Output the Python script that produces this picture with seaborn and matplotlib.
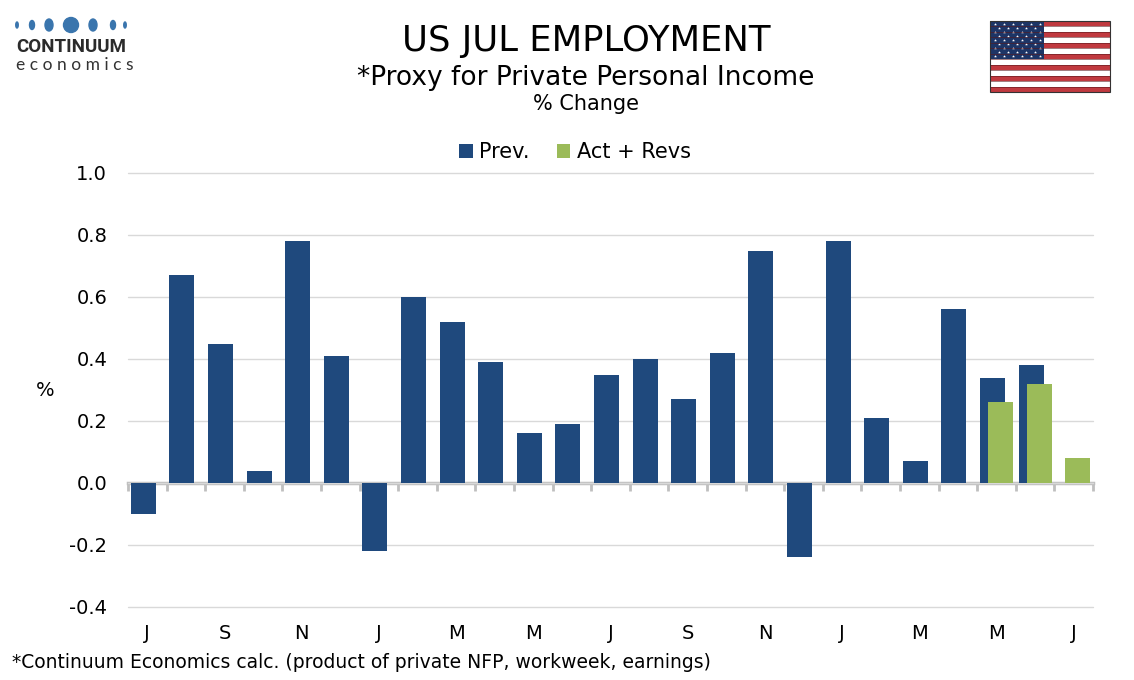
import numpy as np
import pandas as pd
import matplotlib
matplotlib.use("Agg")
import matplotlib.pyplot as plt
from matplotlib.patches import Patch, Rectangle, Ellipse
import seaborn as sns

# ---------------- data ----------------
months = ["Jul-23", "Aug-23", "Sep-23", "Oct-23", "Nov-23", "Dec-23",
          "Jan-24", "Feb-24", "Mar-24", "Apr-24", "May-24", "Jun-24",
          "Jul-24", "Aug-24", "Sep-24", "Oct-24", "Nov-24", "Dec-24",
          "Jan-25", "Feb-25", "Mar-25", "Apr-25", "May-25", "Jun-25", "Jul-25"]
prev = [-0.10, 0.67, 0.45, 0.04, 0.78, 0.41, -0.22, 0.60, 0.52, 0.39, 0.16, 0.19,
        0.35, 0.40, 0.27, 0.42, 0.75, -0.24, 0.78, 0.21, 0.07, 0.56, 0.34, 0.38, np.nan]
act = [np.nan] * 22 + [0.26, 0.32, 0.08]
series_names = ["Prev.", "Act + Revs"]
tick_labels = ["J", "S", "N", "J", "M", "M", "J", "S", "N", "J", "M", "M", "J"]
yticks = [-0.4, -0.2, 0.0, 0.2, 0.4, 0.6, 0.8, 1.0]

colors = {"Prev.": "#1F497D", "Act + Revs": "#9BBB59"}

df = pd.DataFrame({
    "month": months * 2,
    "series": [series_names[0]] * len(months) + [series_names[1]] * len(months),
    "value": prev + act,
})
df["idx"] = list(range(len(months))) * 2

# ---------------- figure ----------------
sns.set_theme(style="white")
plt.rcParams["font.family"] = ["DejaVu Sans"]
plt.rcParams["axes.unicode_minus"] = False
plt.rcParams["text.color"] = "black"
plt.rcParams["xtick.color"] = "black"
plt.rcParams["ytick.color"] = "black"

fig = plt.figure(figsize=(11.34, 6.8), dpi=100)
ax = fig.add_axes([128 / 1134, 1 - 607 / 680, (1093 - 128) / 1134, (607 - 173) / 680])

sns.barplot(data=df, x="idx", y="value", hue="series", hue_order=series_names,
            palette=colors, dodge=True, width=0.42, saturation=1,
            legend=False, ax=ax, errorbar=None)

# widen bars so the two series overlap (Excel-style overlap)
bar_w = 0.65
for p in ax.patches:
    c = p.get_x() + p.get_width() / 2
    p.set_width(bar_w)
    p.set_x(c - bar_w / 2)
    p.set_edgecolor("none")

ax.set_xlim(-0.5, len(months) - 0.5)
ax.set_ylim(-0.4, 1.0)
ax.set_yticks(yticks)
ax.set_yticklabels([f"{v:.1f}" for v in yticks])
ax.set_xticks(range(0, len(months), 2))
ax.set_xticklabels(tick_labels)
ax.tick_params(axis="both", length=0, labelsize=14, labelcolor="black")
ax.tick_params(axis="x", pad=12)
ax.tick_params(axis="y", pad=15)
ax.set_xlabel("")
ax.set_ylabel("")
ax.grid(axis="y", color="#D9D9D9", linewidth=1)
ax.grid(axis="x", visible=False)
ax.set_axisbelow(True)
for gl in ax.get_ygridlines():
    gl.set_clip_on(False)
for s in ax.spines.values():
    s.set_visible(False)

# zero axis line with month-boundary ticks
sec = ax.secondary_xaxis(0, transform=ax.transData)
sec.set_xticks(np.arange(-0.5, len(months), 1))
sec.set_xticklabels([])
sec.tick_params(axis="x", direction="out", length=6, width=2, color="#BFBFBF")
sec.spines["bottom"].set_color("#BFBFBF")
sec.spines["bottom"].set_linewidth(2.5)

# titles
fig.text(586 / 1134, 1 - 41 / 680, "US JUL EMPLOYMENT", ha="center", va="center",
         fontsize=25.5, color="black")
fig.text(586 / 1134, 1 - 78 / 680, "*Proxy for Private Personal Income", ha="center",
         va="center", fontsize=19, color="black")
fig.text(586 / 1134, 1 - 104 / 680, "% Change", ha="center", va="center", fontsize=15,
         color="black")
fig.text(45 / 1134, 1 - 390 / 680, "%", ha="center", va="center", fontsize=14, color="black")
fig.text(12 / 1134, 1 - 663 / 680,
         "*Continuum Economics calc. (product of private NFP, workweek, earnings)",
         ha="left", va="center", fontsize=13.5, color="black")

handles = [Patch(facecolor=colors[n], edgecolor="none") for n in series_names]
leg = fig.legend(handles, series_names, loc="center", bbox_to_anchor=(575 / 1134, 1 - 152 / 680),
                 ncol=2, frameon=False, fontsize=15, handlelength=0.65, handleheight=0.65,
                 handletextpad=0.3, columnspacing=1.3)
for t in leg.get_texts():
    t.set_color("black")

# ---------------- decorations: logo and flag ----------------
ov = fig.add_axes([0, 0, 1, 1], zorder=-1)
ov.set_xlim(0, 1134)
ov.set_ylim(680, 0)
ov.axis("off")

dot_x = [17, 32, 49, 71, 93, 113, 125]
dot_w = [2.5, 5, 8, 15, 8, 5, 2.5]
dot_h = [6, 9, 12, 15, 12, 9, 6]
for x, w, h in zip(dot_x, dot_w, dot_h):
    ov.add_patch(Ellipse((x, 25), w, h, color="#3A75AD"))
ov.text(16, 47, "CONTINUUM", fontsize=13.5, fontweight="bold", family="Roboto",
        color="#2B2B2B", ha="left", va="center")
ov.text(16, 65, "e c o n o m i c s", fontsize=12.5, family="Lato", color="#333333",
        ha="left", va="center")

fx0, fy0, fw, fh = 990, 21, 120, 71
stripe_h = fh / 13
for i in range(13):
    ov.add_patch(Rectangle((fx0, fy0 + i * stripe_h), fw, stripe_h,
                           facecolor="#C0393F" if i % 2 == 0 else "#FFFFFF",
                           edgecolor="none"))
    if i > 0:
        ov.plot([fx0, fx0 + fw], [fy0 + i * stripe_h] * 2, color="#5A1A1E", lw=0.4)
cw, ch = 54, stripe_h * 7
ov.add_patch(Rectangle((fx0, fy0), cw, ch, facecolor="#1D3566", edgecolor="none"))
sx, sy = [], []
for r in range(9):
    n = 6 if r % 2 == 0 else 5
    for k in range(n):
        off = 0 if r % 2 == 0 else 0.5
        sx.append(fx0 + cw * (k + 0.5 + off) / 6.0)
        sy.append(fy0 + ch * (r + 0.7) / 9.6)
ov.scatter(sx, sy, marker="*", s=5, color="white", linewidths=0)
ov.add_patch(Rectangle((fx0, fy0), fw, fh, facecolor="none", edgecolor="#333333", lw=0.8))

fig.savefig("out.png", dpi=100)
